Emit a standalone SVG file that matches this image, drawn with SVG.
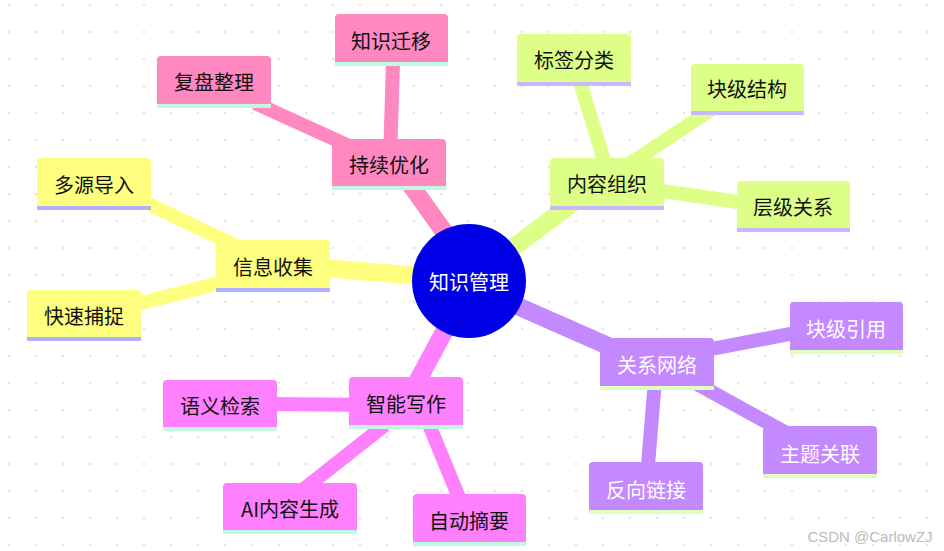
<svg xmlns="http://www.w3.org/2000/svg" width="944" height="551" viewBox="0 0 944 551">
<defs>
<pattern id="dots" width="27" height="27" patternUnits="userSpaceOnUse" x="5" y="2"><circle cx="4" cy="3" r="1.3" fill="#e4e4e4"/></pattern>
</defs>
<style>
text{font-family:"Noto Sans CJK SC","Liberation Sans",sans-serif;font-size:20px;text-anchor:middle;dominant-baseline:central;fill:#111}
.w{fill:#fff}
.c line{stroke-linecap:butt}
.pk{fill:#ff88c0}.gr{fill:#ddff88}.ye{fill:#ffff7f}.pu{fill:#c488ff}.mg{fill:#ff80ff}
.um{fill:#c0f8e0}.up{fill:#c8b8ff}.ub{fill:#b0b0ff}.ug{fill:#ddffbb}
</style>
<rect width="944" height="551" fill="#fff"/>
<rect width="944" height="551" fill="url(#dots)"/>
<g class="c">
<line x1="450" y1="240" x2="400" y2="170" stroke="#ff88c0" stroke-width="18"/>
<line x1="390" y1="160" x2="393" y2="62" stroke="#ff88c0" stroke-width="14"/>
<line x1="380" y1="160" x2="255" y2="103" stroke="#ff88c0" stroke-width="14"/>
<line x1="510" y1="250" x2="590" y2="190" stroke="#ddff88" stroke-width="18"/>
<line x1="607" y1="170" x2="580" y2="82" stroke="#ddff88" stroke-width="14"/>
<line x1="620" y1="170" x2="720" y2="104" stroke="#ddff88" stroke-width="14"/>
<line x1="620" y1="185" x2="745" y2="203" stroke="#ddff88" stroke-width="14"/>
<line x1="420" y1="276" x2="300" y2="266" stroke="#ffff7f" stroke-width="18"/>
<line x1="270" y1="262" x2="140" y2="200" stroke="#ffff7f" stroke-width="14"/>
<line x1="270" y1="270" x2="130" y2="306" stroke="#ffff7f" stroke-width="14"/>
<line x1="515" y1="305" x2="640" y2="360" stroke="#c488ff" stroke-width="18"/>
<line x1="680" y1="355" x2="800" y2="332" stroke="#c488ff" stroke-width="14"/>
<line x1="690" y1="380" x2="790" y2="435" stroke="#c488ff" stroke-width="14"/>
<line x1="655" y1="380" x2="648" y2="465" stroke="#c488ff" stroke-width="14"/>
<line x1="445" y1="330" x2="410" y2="395" stroke="#ff80ff" stroke-width="18"/>
<line x1="380" y1="405" x2="270" y2="404" stroke="#ff80ff" stroke-width="14"/>
<line x1="385" y1="425" x2="300" y2="492" stroke="#ff80ff" stroke-width="14"/>
<line x1="425" y1="415" x2="460" y2="500" stroke="#ff80ff" stroke-width="14"/>
</g>
<g id="n-center"><circle cx="469" cy="281" r="57" fill="#0000e6"/><text class="w" x="469" y="281">知识管理</text></g>
<g id="n-cxyh"><path class="pk" d="M332,186V143a4,4 0 0 1 4,-4H442a4,4 0 0 1 4,4V186Z"/><rect class="um" x="332" y="186" width="114" height="4"/><text x="389" y="164">持续优化</text></g>
<g id="n-zsqy"><path class="pk" d="M335,62V18a4,4 0 0 1 4,-4H444a4,4 0 0 1 4,4V62Z"/><rect class="um" x="335" y="62" width="113" height="4"/><text x="391" y="40">知识迁移</text></g>
<g id="n-fpzl"><path class="pk" d="M157,104V60a4,4 0 0 1 4,-4H267a4,4 0 0 1 4,4V104Z"/><rect class="um" x="157" y="104" width="114" height="4"/><text x="214" y="81">复盘整理</text></g>
<g id="n-nrzz"><path class="gr" d="M550,206V162a4,4 0 0 1 4,-4H660a4,4 0 0 1 4,4V206Z"/><rect class="up" x="550" y="206" width="114" height="4"/><text x="607" y="183">内容组织</text></g>
<g id="n-bqfl"><path class="gr" d="M517,82V38a4,4 0 0 1 4,-4H627a4,4 0 0 1 4,4V82Z"/><rect class="up" x="517" y="82" width="114" height="4"/><text x="574" y="59">标签分类</text></g>
<g id="n-kjjg"><path class="gr" d="M691,111V68a4,4 0 0 1 4,-4H800a4,4 0 0 1 4,4V111Z"/><rect class="up" x="691" y="111" width="113" height="4"/><text x="747" y="88">块级结构</text></g>
<g id="n-cjgx"><path class="gr" d="M737,228V185a4,4 0 0 1 4,-4H846a4,4 0 0 1 4,4V228Z"/><rect class="up" x="737" y="228" width="113" height="4"/><text x="793" y="206">层级关系</text></g>
<g id="n-xxsj"><path class="ye" d="M216,288V244a4,4 0 0 1 4,-4H326a4,4 0 0 1 4,4V288Z"/><rect class="ub" x="216" y="288" width="114" height="4"/><text x="273" y="266">信息收集</text></g>
<g id="n-dydr"><path class="ye" d="M37,206V162a4,4 0 0 1 4,-4H147a4,4 0 0 1 4,4V206Z"/><rect class="ub" x="37" y="206" width="114" height="4"/><text x="94" y="184">多源导入</text></g>
<g id="n-kscz"><path class="ye" d="M27,337V294a4,4 0 0 1 4,-4H137a4,4 0 0 1 4,4V337Z"/><rect class="ub" x="27" y="337" width="114" height="4"/><text x="84" y="315">快速捕捉</text></g>
<g id="n-gxwl"><path class="pu" d="M600,386V342a4,4 0 0 1 4,-4H710a4,4 0 0 1 4,4V386Z"/><rect class="ug" x="600" y="386" width="114" height="4"/><text class="w" x="657" y="364">关系网络</text></g>
<g id="n-kjyy"><path class="pu" d="M790,350V306a4,4 0 0 1 4,-4H899a4,4 0 0 1 4,4V350Z"/><rect class="ug" x="790" y="350" width="113" height="4"/><text class="w" x="846" y="328">块级引用</text></g>
<g id="n-ztgl"><path class="pu" d="M763,474V430a4,4 0 0 1 4,-4H873a4,4 0 0 1 4,4V474Z"/><rect class="ug" x="763" y="474" width="114" height="4"/><text class="w" x="820" y="453">主题关联</text></g>
<g id="n-fxlj"><path class="pu" d="M589,510V466a4,4 0 0 1 4,-4H699a4,4 0 0 1 4,4V510Z"/><rect class="ug" x="589" y="510" width="114" height="4"/><text class="w" x="646" y="489">反向链接</text></g>
<g id="n-znxz"><path class="mg" d="M349,425V381a4,4 0 0 1 4,-4H459a4,4 0 0 1 4,4V425Z"/><rect class="um" x="349" y="425" width="114" height="4"/><text x="406" y="403">智能写作</text></g>
<g id="n-yyjs"><path class="mg" d="M163,427V384a4,4 0 0 1 4,-4H273a4,4 0 0 1 4,4V427Z"/><rect class="um" x="163" y="427" width="114" height="4"/><text x="220" y="405">语义检索</text></g>
<g id="n-ai"><path class="mg" d="M223,530V487a4,4 0 0 1 4,-4H353a4,4 0 0 1 4,4V530Z"/><rect class="um" x="223" y="530" width="134" height="4"/><text x="290" y="508">AI内容生成</text></g>
<g id="n-zdzy"><path class="mg" d="M413,542V498a4,4 0 0 1 4,-4H522a4,4 0 0 1 4,4V542Z"/><rect class="um" x="413" y="542" width="113" height="4"/><text x="469" y="520">自动摘要</text></g>
<text x="870" y="536" style="font-family:'Liberation Sans',sans-serif;font-size:15px;fill:#bbb">CSDN @CarlowZJ</text>
</svg>
